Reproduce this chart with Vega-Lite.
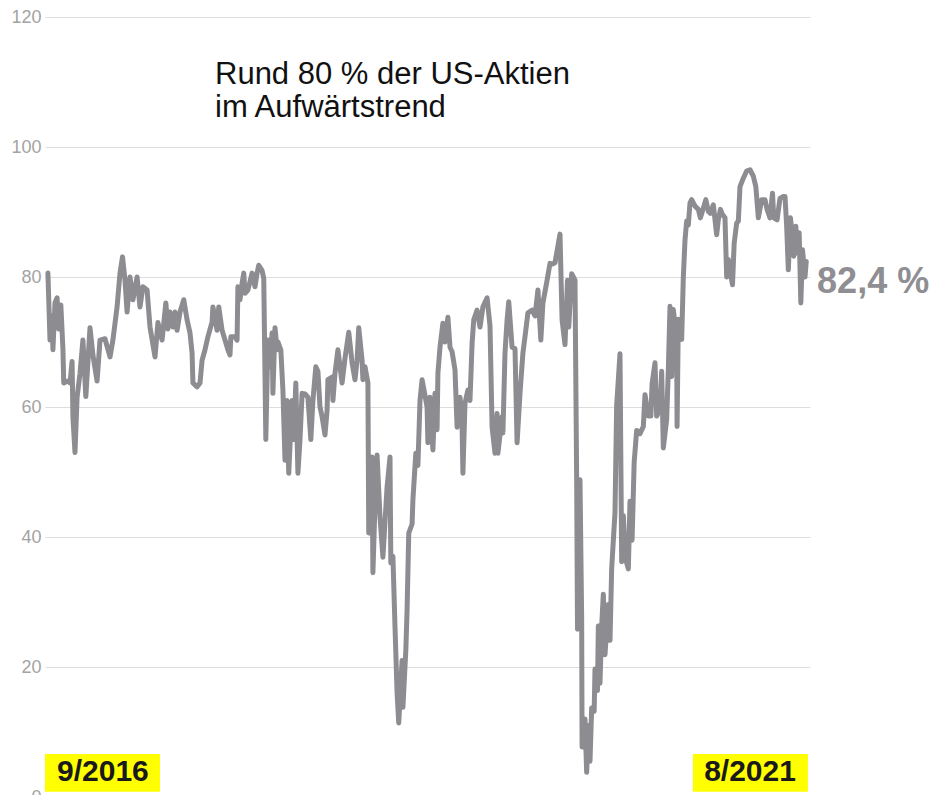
{
  "$schema": "https://vega.github.io/schema/vega-lite/v6.json",
  "width": 765,
  "height": 780,
  "autosize": {"type": "none"},
  "padding": {"left": 45, "top": 17, "right": 123, "bottom": 0},
  "background": "white",
  "config": {
    "view": {"stroke": null},
    "font": "Liberation Sans",
    "axisX": {"domain": false, "ticks": false, "labels": false, "grid": false, "title": null},
    "axisY": {"domain": false, "ticks": false, "title": null, "labelPadding": 4, "labelColor": "#a3a3a3", "labelFontSize": 18, "labelFont": "Liberation Sans", "gridColor": "#dddddd", "gridWidth": 1}
  },
  "datasets": {
    "series": [
      {"day":0,"value":80.6},{"day":5,"value":70.3},{"day":10,"value":74},{"day":12,"value":68.8},{"day":17,"value":76},{"day":22,"value":76.8},{"day":26,"value":72},{"day":31,"value":75.7},{"day":36,"value":69},{"day":38,"value":63.7},{"day":48,"value":64},{"day":53,"value":63.7},{"day":58,"value":67},{"day":60,"value":58.5},{"day":65,"value":53},{"day":70,"value":61.5},{"day":77,"value":65.2},{"day":84,"value":70.3},{"day":91,"value":61.6},{"day":101,"value":72.2},{"day":108,"value":68},{"day":118,"value":64},{"day":125,"value":70.3},{"day":137,"value":70.5},{"day":149,"value":67.7},{"day":156,"value":70.3},{"day":166,"value":75.4},{"day":173,"value":80.6},{"day":179,"value":83.1},{"day":185,"value":79.5},{"day":190,"value":74.6},{"day":197,"value":80},{"day":204,"value":76.5},{"day":214,"value":80},{"day":221,"value":75.4},{"day":228,"value":78.5},{"day":238,"value":78},{"day":245,"value":72.3},{"day":257,"value":67.7},{"day":264,"value":73},{"day":274,"value":70.3},{"day":283,"value":76},{"day":288,"value":72},
      {"day":293,"value":74.6},{"day":300,"value":72.3},{"day":305,"value":74.6},{"day":310,"value":71.8},{"day":317,"value":74.6},{"day":326,"value":76.5},{"day":334,"value":73.4},{"day":341,"value":71.4},{"day":346,"value":68.3},{"day":348,"value":63.7},{"day":358,"value":63.1},{"day":365,"value":63.7},{"day":370,"value":67.2},{"day":377,"value":68.8},{"day":384,"value":70.8},{"day":394,"value":73.1},{"day":396,"value":75.4},{"day":406,"value":71.8},{"day":410,"value":75.4},{"day":418,"value":71.8},{"day":425,"value":70.3},{"day":432,"value":68.8},{"day":437,"value":68},{"day":439,"value":70.8},{"day":449,"value":70.8},{"day":454,"value":70.3},{"day":456,"value":78.5},{"day":461,"value":76.5},{"day":466,"value":79},{"day":470,"value":80.6},{"day":473,"value":77.5},{"day":480,"value":78},{"day":490,"value":80.6},{"day":497,"value":78.5},{"day":502,"value":80.6},{"day":506,"value":81.8},{"day":514,"value":81},{"day":518,"value":79.8},{"day":523,"value":55},{"day":528,"value":70.3},{"day":533,"value":66.2},{"day":538,"value":71.4},{"day":540,"value":62.1},{"day":545,"value":72.2},{"day":550,"value":68.8},{"day":552,"value":70},{"day":559,"value":68.8},{"day":564,"value":62.6},{"day":569,"value":51.8},{"day":574,"value":61},{"day":578,"value":49.8},{"day":586,"value":61},{"day":590,"value":55},{"day":595,"value":63.7},{"day":600,"value":49.8},{"day":605,"value":55},{"day":610,"value":62.1},
      {"day":617,"value":62},{"day":624,"value":61.5},{"day":631,"value":55},{"day":636,"value":61},{"day":643,"value":66.2},{"day":648,"value":65.5},{"day":653,"value":60},{"day":658,"value":58.5},{"day":665,"value":55.7},{"day":670,"value":59.5},{"day":672,"value":64.2},{"day":682,"value":64.6},{"day":684,"value":61},{"day":689,"value":65.2},{"day":696,"value":68.8},{"day":706,"value":63.7},{"day":713,"value":67.5},{"day":722,"value":71.5},{"day":730,"value":66.8},{"day":737,"value":64.2},{"day":742,"value":67.2},{"day":746,"value":72.2},{"day":754,"value":67.2},{"day":756,"value":64.2},{"day":761,"value":66.2},{"day":768,"value":63.7},{"day":770,"value":40.6},{"day":773,"value":45.7},{"day":778,"value":52.3},{"day":780,"value":34.5},{"day":785,"value":45},{"day":790,"value":52.6},{"day":797,"value":43.1},{"day":804,"value":36.9},{"day":814,"value":47.7},{"day":821,"value":52.3},{"day":823,"value":36},{"day":828,"value":37},{"day":833,"value":26.2},{"day":838,"value":16},{"day":842,"value":11.4},{"day":850,"value":21},{"day":852,"value":13.8},{"day":859,"value":22.6},{"day":862,"value":28.8},{"day":866,"value":40.6},{"day":874,"value":42},{"day":876,"value":45.7},{"day":883,"value":52.9},{"day":888,"value":51},{"day":893,"value":61},{"day":898,"value":64.2},{"day":910,"value":60},{"day":912,"value":54.5},
      {"day":917,"value":61.5},{"day":924,"value":53.4},{"day":929,"value":62.1},{"day":934,"value":56.5},{"day":936,"value":65.2},{"day":941,"value":69.2},{"day":948,"value":72.9},{"day":953,"value":70},{"day":960,"value":73.8},{"day":965,"value":69.2},{"day":970,"value":68.5},{"day":977,"value":65.7},{"day":982,"value":56.9},{"day":989,"value":61.5},{"day":994,"value":57},{"day":996,"value":49.8},{"day":1001,"value":60.6},{"day":1008,"value":62.6},{"day":1013,"value":61},{"day":1018,"value":69.8},{"day":1022,"value":73.4},{"day":1030,"value":74.9},{"day":1037,"value":72.3},{"day":1044,"value":75.4},{"day":1054,"value":76.8},{"day":1061,"value":72.5},{"day":1066,"value":56.9},{"day":1073,"value":52.9},{"day":1078,"value":59},{"day":1080,"value":52.9},{"day":1090,"value":58.5},{"day":1092,"value":56},{"day":1097,"value":68.3},{"day":1102,"value":73.4},{"day":1106,"value":76.2},{"day":1114,"value":69.2},{"day":1121,"value":69},{"day":1126,"value":54.5},{"day":1133,"value":62.1},{"day":1140,"value":68.3},{"day":1145,"value":70.8},{"day":1152,"value":74.5},{"day":1162,"value":74.9},{"day":1169,"value":74},{"day":1176,"value":78},{"day":1183,"value":70.3},{"day":1188,"value":76},{"day":1198,"value":79.5},{"day":1205,"value":82.1},{"day":1212,"value":82},
      {"day":1217,"value":82.2},{"day":1229,"value":86.6},{"day":1234,"value":73.4},{"day":1241,"value":69.6},{"day":1247,"value":79.5},{"day":1250,"value":72.3},{"day":1257,"value":80.5},{"day":1265,"value":79.5},{"day":1269,"value":48.8},{"day":1271,"value":25.8},{"day":1277,"value":48.8},{"day":1281,"value":27.4},{"day":1282,"value":7.7},{"day":1289,"value":12},{"day":1293,"value":3.8},{"day":1297,"value":11},{"day":1301,"value":5.5},{"day":1305,"value":13.7},{"day":1311,"value":13.2},{"day":1313,"value":19.7},{"day":1319,"value":16.4},{"day":1321,"value":26.3},{"day":1325,"value":17.5},{"day":1329,"value":26.3},{"day":1333,"value":31.2},{"day":1337,"value":21.9},{"day":1345,"value":29.6},{"day":1349,"value":24.1},{"day":1353,"value":35.1},{"day":1361,"value":43.8},{"day":1365,"value":60.3},{"day":1373,"value":68.2},{"day":1377,"value":36.2},{"day":1381,"value":43.3},{"day":1386,"value":36.7},{"day":1393,"value":35.1},{"day":1397,"value":45.5},{"day":1402,"value":39.5},{"day":1407,"value":51.5},{"day":1413,"value":56.4},{"day":1421,"value":55.9},{"day":1429,"value":57},{"day":1433,"value":61.9},{"day":1441,"value":58.6},{"day":1447,"value":58.6},{"day":1450,"value":63.6},{"day":1457,"value":66.8},{"day":1461,"value":58.6},{"day":1469,"value":59.7},{"day":1473,"value":65.5},{"day":1477,"value":53.7},{"day":1485,"value":58.1},{"day":1489,"value":65.8},
      {"day":1493,"value":75.5},{"day":1497,"value":64.7},{"day":1501,"value":75},{"day":1509,"value":70.4},{"day":1510,"value":57},{"day":1513,"value":73.5},{"day":1517,"value":72},{"day":1521,"value":70.4},{"day":1525,"value":80},{"day":1529,"value":85.7},{"day":1533,"value":88.6},{"day":1537,"value":88},{"day":1541,"value":91.4},{"day":1545,"value":91.9},{"day":1553,"value":90.9},{"day":1561,"value":90.4},{"day":1566,"value":89.1},{"day":1573,"value":90.6},{"day":1579,"value":91.9},{"day":1585,"value":90.1},{"day":1590,"value":89.8},{"day":1597,"value":91.1},{"day":1605,"value":86.5},{"day":1609,"value":88.8},{"day":1614,"value":90.4},{"day":1619,"value":89.6},{"day":1625,"value":89.1},{"day":1629,"value":80},{"day":1633,"value":82.7},{"day":1637,"value":81},{"day":1643,"value":78.8},{"day":1647,"value":85.2},{"day":1653,"value":88.3},{"day":1657,"value":88.6},{"day":1661,"value":93.9},{"day":1669,"value":95.2},{"day":1677,"value":96.3},{"day":1685,"value":96.5},{"day":1693,"value":95.5},{"day":1699,"value":93.9},{"day":1705,"value":89.1},{"day":1713,"value":91.9},{"day":1721,"value":91.9},{"day":1726,"value":90.4},{"day":1733,"value":89.1},{"day":1739,"value":92.9},{"day":1742,"value":89.1},{"day":1750,"value":88.8},{"day":1757,"value":92.1},{"day":1765,"value":92.4},{"day":1769,"value":92.4},{"day":1773,"value":87.8},{"day":1777,"value":81.1},{"day":1782,"value":89.1},{"day":1787,"value":86.3},{"day":1790,"value":83.2},{"day":1795,"value":87.8},{"day":1798,"value":83.7},{"day":1803,"value":86.8},{"day":1807,"value":76},{"day":1811,"value":84.2},{"day":1817,"value":80},{"day":1820,"value":82.4}
    ],
    "boxes": [
      {"x0": -7, "x1": 269, "y0": 0.8, "y1": 6.6, "label": "9/2016", "xc": 132, "yb": 2.4},
      {"x0": 1548, "x1": 1824, "y0": 0.8, "y1": 6.6, "label": "8/2021", "xc": 1685, "yb": 2.4}
    ],
    "title": [
      {"day": 401, "value": 109.7, "label": "Rund 80 % der US-Aktien"},
      {"day": 401, "value": 104.6, "label": "im Aufwärtstrend"}
    ],
    "last": [
      {"day": 1846, "value": 77.5, "label": "82,4 %"}
    ]
  },
  "layer": [
    {
      "data": {"name": "series"},
      "mark": {"type": "line", "color": "#8d8c91", "strokeWidth": 5, "strokeJoin": "round", "strokeCap": "round"},
      "encoding": {
        "x": {"field": "day", "type": "quantitative", "scale": {"domain": [-7, 1829], "nice": false, "zero": false}},
        "y": {"field": "value", "type": "quantitative", "scale": {"domain": [0, 120], "nice": false}, "axis": {"values": [0, 20, 40, 60, 80, 100, 120]}}
      }
    },
    {
      "data": {"name": "boxes"},
      "mark": {"type": "rect", "color": "#ffff00"},
      "encoding": {
        "x": {"field": "x0", "type": "quantitative", "scale": {"domain": [-7, 1829], "nice": false, "zero": false}},
        "x2": {"field": "x1"},
        "y": {"field": "y0", "type": "quantitative", "scale": {"domain": [0, 120], "nice": false}},
        "y2": {"field": "y1"}
      }
    },
    {
      "data": {"name": "boxes"},
      "mark": {"type": "text", "font": "Liberation Sans", "fontWeight": "bold", "fontSize": 30, "color": "#1a1a1a", "align": "center", "baseline": "alphabetic"},
      "encoding": {
        "x": {"field": "xc", "type": "quantitative", "scale": {"domain": [-7, 1829], "nice": false, "zero": false}},
        "y": {"field": "yb", "type": "quantitative", "scale": {"domain": [0, 120], "nice": false}},
        "text": {"field": "label"}
      }
    },
    {
      "data": {"name": "title"},
      "mark": {"type": "text", "font": "Liberation Sans", "fontSize": 31, "color": "#111111", "align": "left", "baseline": "alphabetic"},
      "encoding": {
        "x": {"field": "day", "type": "quantitative", "scale": {"domain": [-7, 1829], "nice": false, "zero": false}},
        "y": {"field": "value", "type": "quantitative", "scale": {"domain": [0, 120], "nice": false}},
        "text": {"field": "label"}
      }
    },
    {
      "data": {"name": "last"},
      "mark": {"type": "text", "font": "Liberation Sans", "fontWeight": "bold", "fontSize": 36, "color": "#8f8e93", "align": "left", "baseline": "alphabetic"},
      "encoding": {
        "x": {"field": "day", "type": "quantitative", "scale": {"domain": [-7, 1829], "nice": false, "zero": false}},
        "y": {"field": "value", "type": "quantitative", "scale": {"domain": [0, 120], "nice": false}},
        "text": {"field": "label"}
      }
    }
  ]
}
